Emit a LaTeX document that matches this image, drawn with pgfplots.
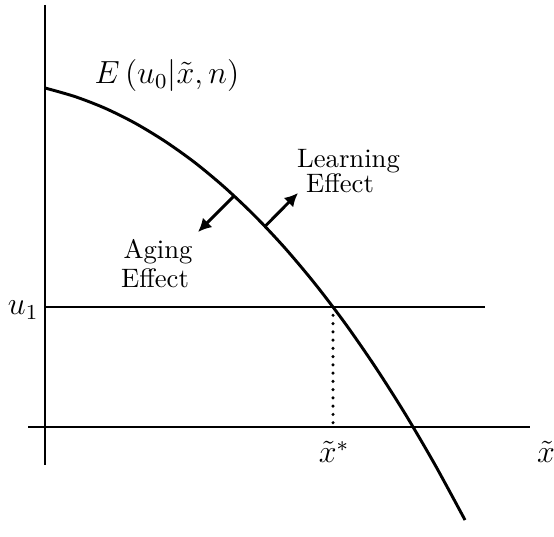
\documentclass[border=0pt]{standalone}
\usepackage{pgfplots}
\pgfplotsset{compat=1.18}
\usetikzlibrary{arrows.meta}
\begin{document}
\begin{tikzpicture}
\begin{axis}[
  scale only axis, width=207.75pt, height=201pt,
  xmin=0, xmax=554, ymin=0, ymax=536,
  axis lines=none, ticks=none, clip=false,
]
\path (axis cs:0,0) rectangle (axis cs:554,536);
% axes
\addplot[black, line width=1.1pt] coordinates {(45,531) (45,71)};
\addplot[black, line width=1.1pt] coordinates {(28,109) (530,109)};
% u1 line
\addplot[black, line width=1.1pt] coordinates {(45,229) (485,229)};
% dotted drop
\addplot[black, line width=1.3pt, dash pattern=on 0pt off 3.1pt, line cap=round] coordinates {(333,229) (333,109)};
% curve
\addplot[black, line width=1.1pt, smooth] coordinates {
(45,448) (75,439.4) (105,427.8) (135,412.9) (165,394.7) (195,373.3)
(225,348.3) (255,319.9) (285,287.9) (315,252.2) (345,212.8) (375,169.5)
(405,122.4) (435,71.2) (465,16)};
% arrows
\addplot[black, line width=1.1pt, -{Latex[length=5pt,width=5pt]}] coordinates {(234,340) (198,304)};
\addplot[black, line width=1.1pt, -{Latex[length=5pt,width=5pt]}] coordinates {(265,309.6) (298,343)};
% labels
\node at (axis cs:167,460) {\large $E\left(u_0|\tilde{x},n\right)$};
\node[anchor=base, inner sep=0pt] at (axis cs:348.5,369) {Learning};
\node[anchor=base, inner sep=0pt] at (axis cs:340,344) {Effect};
\node[anchor=base, inner sep=0pt] at (axis cs:158,278) {Aging};
\node[anchor=base, inner sep=0pt] at (axis cs:155,249) {Effect};
\node[anchor=east, inner sep=0pt] at (axis cs:39,226) {\large $u_1$};
\node at (axis cs:334,84) {\large $\tilde{x}^{*}$};
\node[overlay] at (axis cs:546,84) {\large $\tilde{x}$};
\end{axis}
\end{tikzpicture}
\end{document}
